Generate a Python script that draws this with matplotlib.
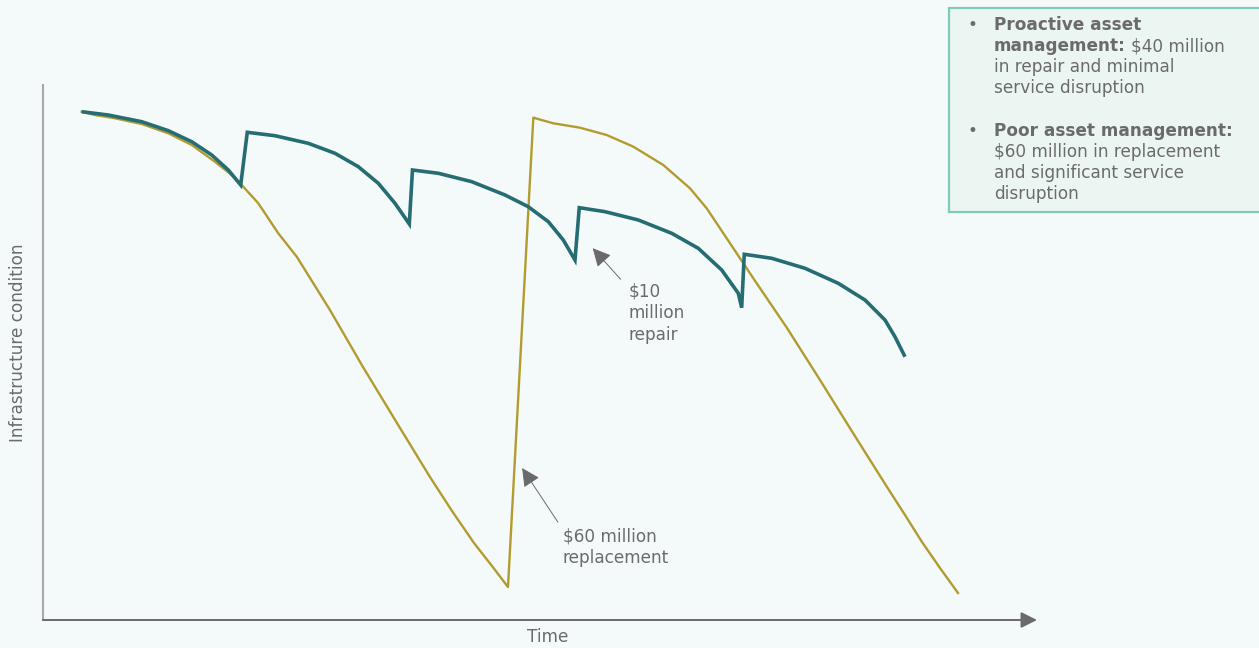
import matplotlib
matplotlib.use("Agg")
import matplotlib.pyplot as plt
from matplotlib.patches import Rectangle

# ---------------- data (time units 0-100, condition 0-100) ----------------
proactive_time = [3.89, 6.57, 9.93, 12.61, 14.96, 16.97, 18.64, 19.89,
                  20.55, 23.34, 26.69, 29.38, 31.72, 33.73, 35.41, 36.85,
                  37.17, 39.77, 43.13, 46.48, 48.82, 50.84, 52.34, 53.52,
                  53.95, 56.54, 59.89, 63.25, 65.92, 68.28, 69.95, 70.29,
                  70.55, 73.31, 76.66, 80.01, 82.70, 84.71, 85.71, 86.72]
proactive_cond = [95.01, 94.39, 93.14, 91.46, 89.40, 86.92, 84.11, 81.31,
                  91.16, 90.52, 89.10, 87.23, 84.73, 81.63, 77.89, 74.02,
                  84.11, 83.50, 81.93, 79.44, 77.25, 74.45, 71.03, 67.29,
                  77.07, 76.32, 74.77, 72.28, 69.48, 65.42, 61.07, 58.37,
                  68.36, 67.61, 65.74, 62.93, 59.81, 56.07, 52.95, 49.21]

poor_time = [3.89, 5.23, 7.24, 9.93, 12.61, 14.96, 17.30, 18.98, 19.99, 21.66,
             23.67, 25.55, 28.87, 32.19, 35.61, 38.93, 41.15, 43.36, 45.17, 46.78,
             49.33, 51.34, 54.02, 56.71, 59.39, 62.40, 65.09, 66.77, 68.78,
             71.46, 74.85, 78.17, 81.49, 84.91, 86.72, 88.43, 90.24, 92.05]
poor_cond = [95.01, 94.39, 93.78, 92.71, 90.97, 88.79, 85.66, 83.18, 81.31, 77.89,
             72.28, 67.85, 57.94, 47.29, 36.82, 26.73, 20.37, 14.39, 10.09, 6.17,
             93.89, 92.84, 92.02, 90.65, 88.47, 85.05, 80.69, 76.95, 71.35,
             63.87, 54.58, 44.86, 34.95, 24.86, 19.63, 14.58, 9.72, 5.05]

x_label = "Time"
y_label = "Infrastructure condition"
repair_label = "$10\nmillion\nrepair"
replace_label = "$60 million\nreplacement"

# ---------------- style ----------------
BG = "#f4fafa"
TEAL = "#266d73"
GOLD = "#b29b2f"
TXT = "#6b6b6b"
FONT = ["DejaVu Sans"]
plt.rcParams["font.family"] = FONT
FS = 12.2

W, H = 1259, 648
fig = plt.figure(figsize=(W / 100, H / 100), dpi=100, facecolor=BG)

ax = fig.add_axes([43 / W, (H - 620) / H, 994 / W, 535 / H])
ax.set_facecolor(BG)
ax.set_xlim(0, 100)
ax.set_ylim(0, 100)
ax.set_xticks([])
ax.set_yticks([])
for s in ["top", "right", "bottom"]:
    ax.spines[s].set_visible(False)
ax.spines["left"].set_color("#a8a8a8")
ax.spines["left"].set_linewidth(1.5)

# x-axis with arrow
ax.annotate("", xy=(1, 0), xytext=(0, 0), xycoords="axes fraction",
            arrowprops=dict(arrowstyle="-|>", color="#6a6a6a", lw=1.4,
                            mutation_scale=24, shrinkA=0, shrinkB=0),
            annotation_clip=False)

ax.plot(poor_time, poor_cond, color=GOLD, lw=1.7, solid_joinstyle="round", zorder=3)
ax.plot(proactive_time, proactive_cond, color=TEAL, lw=2.6,
        solid_joinstyle="miter", solid_capstyle="butt", zorder=4)

arrow_kw = dict(arrowstyle="-|>", color="#6a6a6a", lw=0.7, mutation_scale=28,
                shrinkA=0, shrinkB=0)
ax.annotate("", xy=(55.3, 69.5), xytext=(58.1, 63.7), arrowprops=arrow_kw)
ax.text(58.9, 63.0, repair_label, color=TXT, fontsize=FS, va="top", ha="left",
        linespacing=1.24)
ax.annotate("", xy=(48.2, 28.4), xytext=(51.8, 18.3), arrowprops=arrow_kw)
ax.text(52.3, 17.3, replace_label, color=TXT, fontsize=FS, va="top", ha="left",
        linespacing=1.24)

fig.text(18 / W, 1 - 343 / H, y_label, rotation=90, ha="center", va="center",
         color=TXT, fontsize=FS)
fig.text(548 / W, 1 - 637 / H, x_label, ha="center", va="center",
         color=TXT, fontsize=FS)

# ---------------- text box ----------------
fig.patches.append(Rectangle((949 / W, 1 - 212 / H), 320 / W, 204 / H,
                             transform=fig.transFigure, facecolor="#ebf6f3",
                             edgecolor="#7ecbbd", lw=1.6, zorder=0))

lines = [
    (25, True, "Proactive asset", None),
    (46, False, "management:", "$40 million"),
    (67, False, None, "in repair and minimal"),
    (88, False, None, "service disruption"),
    (131, True, "Poor asset management:", None),
    (152, False, None, "$60 million in replacement"),
    (173, False, None, "and significant service"),
    (194, False, None, "disruption"),
]
mixed = []
for y, bullet, bold, normal in lines:
    yf = 1 - y / H
    if bullet:
        fig.text(967 / W, yf, "•", color=TXT, fontsize=FS, ha="left", va="center")
    if bold:
        t = fig.text(994 / W, yf, bold, color=TXT, fontsize=FS, fontweight="bold",
                     ha="left", va="center")
        if normal:
            mixed.append((t, yf, normal))
    else:
        fig.text(994 / W, yf, normal, color=TXT, fontsize=FS, ha="left", va="center")

fig.canvas.draw()
r = fig.canvas.get_renderer()
for t, yf, normal in mixed:
    bb = t.get_window_extent(renderer=r)
    fig.text((bb.x1 + 5) / W, yf, normal, color=TXT, fontsize=FS,
             ha="left", va="center")

fig.savefig("out.png", dpi=100, facecolor=BG)
